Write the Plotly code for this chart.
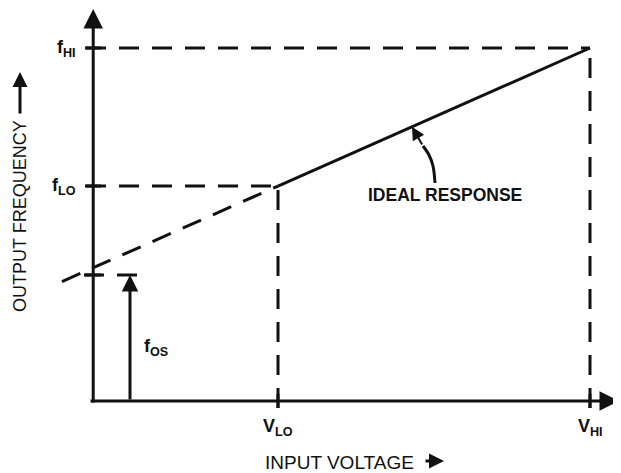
import numpy as np
import plotly.graph_objects as go

# ---- data (arbitrary units) ----
voltage_points = [3.72, 10.0]          # V_LO, V_HI
frequency_points = [6.09, 10.0]        # f_LO, f_HI
f_os_level = 3.57                      # offset frequency marker level
x_tick_labels = ["V<sub>LO</sub>", "V<sub>HI</sub>"]
y_tick_labels = ["f<sub>LO</sub>", "f<sub>HI</sub>"]
os_label = "f<sub>OS</sub>"
response_label = "IDEAL RESPONSE"
x_title = "INPUT VOLTAGE"
y_title = "OUTPUT FREQUENCY"

V_LO, V_HI = voltage_points
F_LO, F_HI = frequency_points

INK = "#111111"
FONT = "Liberation Sans"

# page-pixel -> data helpers (layout only; page has an 8px body margin)
PX0, SX = 93.2, 49.68      # x=0 at page px 93.2
PY0, SY = 401.0, 35.3      # y=0 at page py 401
def dx(px):
    return (px - PX0) / SX
def dy(py):
    return (PY0 - py) / SY

slope = (F_HI - F_LO) / (V_HI - V_LO)
def line_y(x):
    return F_LO + (x - V_LO) * slope

fig = go.Figure()

def seg(xs, ys, dash=None, width=3):
    fig.add_trace(go.Scatter(x=xs, y=ys, mode="lines", hoverinfo="skip",
                             line=dict(color=INK, width=width, dash=dash),
                             showlegend=False))

DASH = "20px,13px"

# dashed reference lines for f_HI / V_HI and f_LO / V_LO
seg([dx(86), V_HI], [F_HI, F_HI], DASH)
seg([V_HI, V_HI], [dy(408), F_HI], DASH)
seg([dx(86), V_LO], [F_LO, F_LO], DASH)
seg([V_LO, V_LO], [dy(408), F_LO], DASH)
# f_OS dashed level
seg([dx(84), dx(143)], [f_os_level, f_os_level], DASH)

# ideal response: solid between points, dashed extrapolation
x_ext_left = dx(62)
seg([V_LO, V_HI], [F_LO, F_HI], None, 3)
seg([x_ext_left, V_LO], [line_y(x_ext_left), F_LO], DASH)

# tick marks crossing the axes
for v in voltage_points:
    seg([v, v], [dy(408), dy(394)], None, 3)
for f in frequency_points + [f_os_level]:
    seg([dx(85), dx(101)], [f, f], None, 3)

# curved leader for "IDEAL RESPONSE"
lx = [dx(435), dx(433), dx(429), dx(423)]
ly = [dy(183), dy(166), dy(155), dy(146)]
fig.add_trace(go.Scatter(x=lx, y=ly, mode="lines", hoverinfo="skip",
                         line=dict(color=INK, width=3, shape="spline"),
                         showlegend=False))

ann = []
def arrow(x, y, ax, ay, width=2.5, size=1.3):
    ann.append(dict(x=x, y=y, ax=ax, ay=ay, xref="x", yref="y", axref="x", ayref="y",
                    text="", showarrow=True, arrowhead=2, arrowsize=size,
                    arrowwidth=width, arrowcolor=INK, standoff=0, startstandoff=0))

# axes with arrowheads
arrow(0, dy(9), 0, dy(404), width=3)
arrow(dx(619), 0, dx(89), 0, width=3)
# f_OS arrow
arrow(dx(130), f_os_level, dx(130), 0, width=3, size=1.1)
# leader arrowhead to the line
arrow(dx(412), line_y(dx(412)), dx(423), dy(146), width=2, size=1.3)

def label(x, y, text, size=15, xanchor="center", yanchor="middle", bold=True, angle=0):
    ann.append(dict(x=x, y=y, xref="x", yref="y", text=(f"<b>{text}</b>" if bold else text),
                    showarrow=False, xanchor=xanchor, yanchor=yanchor, textangle=angle,
                    font=dict(family=FONT, size=size, color=INK)))

# tick labels
for v, t in zip(voltage_points, x_tick_labels):
    label(v, dy(414), t, 18, "center", "top")
for f, t in zip(frequency_points, y_tick_labels):
    label(dx(78), f, t, 18, "right", "middle")
label(dx(142), dy(347), os_label, 18, "left", "middle")
label(dx(366), dy(195), response_label, 17.5, "left", "middle")

# axis titles with arrows
label(dx(263), dy(462), x_title, 19, "left", "middle", bold=False)
arrow(dx(444), dy(461), dx(424), dy(461), width=3, size=1.0)
label(dx(20), dy(216), y_title, 18, "center", "middle", bold=False, angle=-90)
arrow(dx(20), dy(72), dx(20), dy(115), width=3, size=1.0)

fig.update_layout(
    width=613, height=465, autosize=False,
    margin=dict(l=0, r=0, t=0, b=0),
    paper_bgcolor="white", plot_bgcolor="white",
    xaxis=dict(range=[dx(8), dx(621)], visible=False, fixedrange=True),
    yaxis=dict(range=[dy(473), dy(8)], visible=False, fixedrange=True),
    annotations=ann,
    showlegend=False,
)

fig.write_html("out.html")
